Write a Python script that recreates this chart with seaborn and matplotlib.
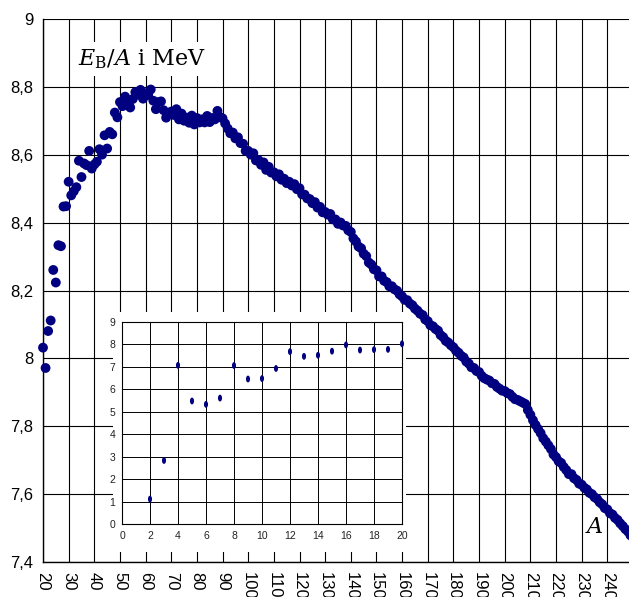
import numpy as np
import pandas as pd
import matplotlib
matplotlib.use('Agg')
import matplotlib.pyplot as plt
from matplotlib.patches import Rectangle
import seaborn as sns

# binding energy per nucleon (A = 20 .. 250)
mass_number = list(range(20, 251))
binding_per_nucleon = [
    8.032, 7.972, 8.081, 8.112, 8.261, 8.224, 8.334, 8.331, 8.448, 8.449,
    8.521, 8.481, 8.493, 8.505, 8.583, 8.535, 8.575, 8.570, 8.612, 8.560,
    8.572, 8.580, 8.617, 8.601, 8.658, 8.619, 8.668, 8.661, 8.725, 8.711,
    8.756, 8.744, 8.772, 8.758, 8.740, 8.765, 8.785, 8.778, 8.792, 8.766,
    8.782, 8.777, 8.793, 8.760, 8.735, 8.756, 8.758, 8.732, 8.710, 8.724,
    8.728, 8.718, 8.735, 8.705, 8.722, 8.701, 8.710, 8.695, 8.716, 8.690,
    8.709, 8.696, 8.705, 8.696, 8.715, 8.697, 8.709, 8.705, 8.730, 8.712,
    8.708, 8.693, 8.678, 8.664, 8.666, 8.649, 8.652, 8.635, 8.633, 8.612,
    8.612, 8.601, 8.605, 8.584, 8.585, 8.571, 8.578, 8.556, 8.565, 8.548,
    8.549, 8.537, 8.543, 8.527, 8.530, 8.517, 8.521, 8.510, 8.514, 8.499,
    8.502, 8.484, 8.483, 8.472, 8.470, 8.458, 8.461, 8.445, 8.447, 8.431,
    8.432, 8.424, 8.426, 8.410, 8.410, 8.397, 8.401, 8.392, 8.391, 8.378,
    8.373, 8.354, 8.345, 8.330, 8.325, 8.309, 8.302, 8.283, 8.277, 8.263,
    8.260, 8.242, 8.242, 8.229, 8.225, 8.213, 8.213, 8.204, 8.200, 8.189,
    8.183, 8.173, 8.172, 8.162, 8.157, 8.147, 8.141, 8.132, 8.128, 8.115,
    8.110, 8.098, 8.095, 8.087, 8.082, 8.069, 8.063, 8.052, 8.047, 8.039,
    8.033, 8.023, 8.017, 8.008, 8.003, 7.991, 7.985, 7.974, 7.972, 7.963,
    7.960, 7.949, 7.942, 7.938, 7.935, 7.927, 7.925, 7.916, 7.911, 7.905,
    7.904, 7.898, 7.895, 7.887, 7.880, 7.878, 7.874, 7.870, 7.866, 7.848,
    7.834, 7.818, 7.804, 7.792, 7.780, 7.765, 7.755, 7.744, 7.733, 7.717,
    7.709, 7.697, 7.692, 7.680, 7.671, 7.659, 7.659, 7.647, 7.642, 7.631,
    7.628, 7.619, 7.614, 7.604, 7.600, 7.591, 7.586, 7.576, 7.570, 7.559,
    7.555, 7.544, 7.540, 7.530, 7.524, 7.514, 7.506, 7.497, 7.490, 7.479,
    7.472,
]

# light nuclei for the inset (A = 2 .. 20)
inset_mass_number = list(range(2, 21))
inset_binding = [1.11, 2.83, 7.07, 5.48, 5.33, 5.61, 7.06, 6.46, 6.48, 6.93,
                 7.68, 7.47, 7.52, 7.70, 7.98, 7.75, 7.77, 7.78, 8.03]

main_xticks = list(range(20, 251, 10))
main_yticks = [7.4, 7.6, 7.8, 8.0, 8.2, 8.4, 8.6, 8.8, 9.0]
main_ylabels = ['7,4', '7,6', '7,8', '8', '8,2', '8,4', '8,6', '8,8', '9']
inset_xticks = list(range(0, 21, 2))
inset_yticks = list(range(0, 10))

dot_color = '#000080'

sns.set_style('white')
plt.rcParams['font.family'] = ['Liberation Sans', 'DejaVu Sans']
plt.rcParams['mathtext.fontset'] = 'dejavuserif'
plt.rcParams['text.color'] = 'black'

fig = plt.figure(figsize=(6.29, 5.97), dpi=100)

# main chart
ax = fig.add_axes([43 / 629, 35 / 597, 590 / 629, 542.7 / 597])
df = pd.DataFrame({'A': mass_number, 'EB': binding_per_nucleon})
sns.scatterplot(data=df, x='A', y='EB', ax=ax, color=dot_color, s=50,
                edgecolor='none', linewidth=0, legend=False, zorder=3,
                clip_on=False)
ax.set_xlim(20, 250)
ax.set_ylim(7.4, 9.0)
ax.set_xticks(main_xticks)
ax.set_xticklabels([str(v) for v in main_xticks], rotation=-90)
ax.set_yticks(main_yticks)
ax.set_yticklabels(main_ylabels)
ax.set_xlabel('')
ax.set_ylabel('')
ax.grid(True, color='black', linewidth=0.8)
ax.set_axisbelow(True)
for side in ['top', 'right']:
    ax.spines[side].set_visible(False)
for side in ['left', 'bottom']:
    ax.spines[side].set_color('black')
    ax.spines[side].set_linewidth(1.0)
ax.tick_params(direction='out', length=4, width=0.8, color='black',
               labelsize=12, labelcolor='black', pad=3)

ax.text(0.059, 0.927, r'$E_{\mathrm{B}}/A$ i MeV', transform=ax.transAxes,
        fontsize=16, family='DejaVu Serif', color='black', va='center',
        ha='left', bbox=dict(facecolor='white', edgecolor='none', pad=4),
        zorder=4)
ax.text(0.934, 0.063, r'$A$', transform=ax.transAxes, fontsize=16,
        color='black', va='center', ha='center', zorder=4)

# white panel behind the inset
fig.patches.append(Rectangle((113 / 629, 45 / 597), 293 / 629, 240 / 597,
                             transform=fig.transFigure, facecolor='white',
                             edgecolor='none', zorder=1))

# inset with the light nuclei
ax_in = fig.add_axes([122 / 629, 73 / 597, 280 / 629, 202 / 597])
ax_in.set_zorder(2)
ax_in.set_facecolor('white')
t = np.linspace(0, 2 * np.pi, 40)
ellipse = np.column_stack([0.6 * np.cos(t), np.sin(t)])
df_in = pd.DataFrame({'A': inset_mass_number, 'EB': inset_binding})
sns.scatterplot(data=df_in, x='A', y='EB', ax=ax_in, color=dot_color,
                marker=ellipse, s=24, edgecolor='none', linewidth=0,
                legend=False, zorder=3, clip_on=False)
ax_in.set_xlim(0, 20)
ax_in.set_ylim(0, 9)
ax_in.set_xticks(inset_xticks)
ax_in.set_yticks(inset_yticks)
ax_in.set_xlabel('')
ax_in.set_ylabel('')
ax_in.grid(True, color='black', linewidth=0.7)
ax_in.set_axisbelow(True)
for side in ax_in.spines:
    ax_in.spines[side].set_color('black')
    ax_in.spines[side].set_linewidth(0.8)
ax_in.tick_params(direction='out', length=3, width=0.7, color='black',
                  labelsize=7.5, labelcolor='#222222', pad=2)

fig.savefig('out.png', dpi=100)
